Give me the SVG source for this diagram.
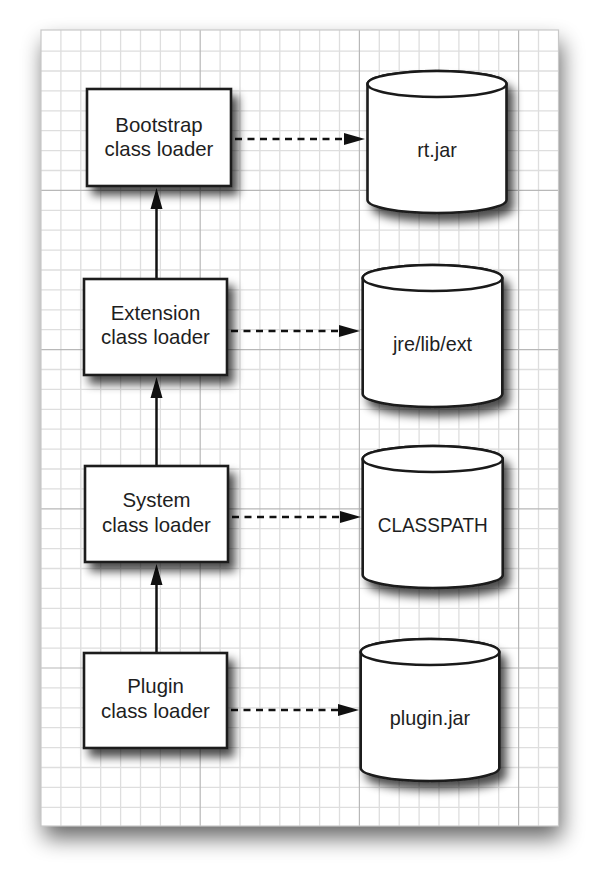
<svg xmlns="http://www.w3.org/2000/svg" width="600" height="871" viewBox="0 0 600 871">
<style>
.minor{stroke:#dedede;stroke-width:1.3;fill:none}
.major{stroke:#b8b8b8;stroke-width:1.2;fill:none}
.box{fill:#fff;stroke:#1a1a1a;stroke-width:2.6}
.cyl{fill:#fff;stroke:#1a1a1a;stroke-width:2.6}
.lbl{font-family:"Liberation Sans",Arial,Helvetica,sans-serif;font-size:20.4px;fill:#1e1e1e;text-anchor:middle}
.clbl{font-family:"Liberation Sans",Arial,Helvetica,sans-serif;font-size:19.8px;fill:#1e1e1e;text-anchor:middle}
.solid{stroke:#111;stroke-width:2.5;fill:none}
.dash{stroke:#111;stroke-width:2.6;fill:none;stroke-dasharray:7 5.5}
</style>
<defs>
<filter id="paperShadow" x="-15%" y="-10%" width="130%" height="125%">
<feGaussianBlur in="SourceAlpha" stdDeviation="11"/>
<feOffset dx="3" dy="12"/>
<feComponentTransfer><feFuncA type="linear" slope="0.6"/></feComponentTransfer>
<feMerge><feMergeNode/><feMergeNode in="SourceGraphic"/></feMerge>
</filter>
<filter id="nodeShadow" x="-20%" y="-20%" width="160%" height="160%">
<feGaussianBlur in="SourceAlpha" stdDeviation="5"/>
<feOffset dx="6" dy="8"/>
<feComponentTransfer><feFuncA type="linear" slope="0.7"/></feComponentTransfer>
<feMerge><feMergeNode/><feMergeNode in="SourceGraphic"/></feMerge>
</filter>
<marker id="arrow" markerUnits="userSpaceOnUse" markerWidth="22" markerHeight="14" refX="1" refY="6.5" orient="auto">
<path d="M0,0.5 L21,6.5 L0,12.5 z" fill="#111"/>
</marker>
</defs>
<rect width="600" height="871" fill="#fff"/>
<g id="paper">
<rect x="41" y="30" width="517.5" height="796" fill="#fff" filter="url(#paperShadow)"/>
<path class="minor" d="M60.9 30V826M80.8 30V826M100.7 30V826M120.6 30V826M140.5 30V826M160.4 30V826M180.3 30V826M220.1 30V826M240 30V826M259.9 30V826M279.8 30V826M299.7 30V826M319.6 30V826M339.5 30V826M379.3 30V826M399.2 30V826M419.1 30V826M439 30V826M458.9 30V826M478.8 30V826M498.7 30V826M538.5 30V826"/>
<path class="minor" d="M41 51.1H558.5M41 71H558.5M41 90.9H558.5M41 110.8H558.5M41 130.7H558.5M41 150.6H558.5M41 170.5H558.5M41 210.3H558.5M41 230.2H558.5M41 250.1H558.5M41 270H558.5M41 289.9H558.5M41 309.8H558.5M41 329.7H558.5M41 369.5H558.5M41 389.4H558.5M41 409.3H558.5M41 429.2H558.5M41 449.1H558.5M41 469H558.5M41 488.9H558.5M41 528.7H558.5M41 548.6H558.5M41 568.5H558.5M41 588.4H558.5M41 608.3H558.5M41 628.2H558.5M41 648.1H558.5M41 687.9H558.5M41 707.8H558.5M41 727.7H558.5M41 747.6H558.5M41 767.5H558.5M41 787.4H558.5M41 807.3H558.5"/>
<path class="major" d="M200.2 30V826M359.4 30V826M518.6 30V826M41 190.4H558.5M41 349.6H558.5M41 508.8H558.5M41 668H558.5"/>
<rect x="41" y="30" width="517.5" height="796" fill="none" stroke="#c8c8c8" stroke-width="1.2"/>
</g>
<g id="connectors">
<path class="solid" d="M156.5 279V208" marker-end="url(#arrow)"/>
<path class="solid" d="M156.5 466V397" marker-end="url(#arrow)"/>
<path class="solid" d="M156.5 653V584" marker-end="url(#arrow)"/>
<path class="dash" d="M235 139H345" marker-end="url(#arrow)"/>
<path class="dash" d="M231 331H340" marker-end="url(#arrow)"/>
<path class="dash" d="M232 517H341" marker-end="url(#arrow)"/>
<path class="dash" d="M231 710H339" marker-end="url(#arrow)"/>
</g>
<g id="bootstrap">
<rect class="box" x="87" y="89" width="144" height="97" filter="url(#nodeShadow)"/>
<text class="lbl" x="159" y="132">Bootstrap</text>
<text class="lbl" x="159" y="156">class loader</text>
</g>
<g id="extension">
<rect class="box" x="84" y="279" width="143" height="96" filter="url(#nodeShadow)"/>
<text class="lbl" x="155.5" y="320">Extension</text>
<text class="lbl" x="155.5" y="344">class loader</text>
</g>
<g id="system">
<rect class="box" x="85" y="466" width="143" height="96" filter="url(#nodeShadow)"/>
<text class="lbl" x="156.5" y="507">System</text>
<text class="lbl" x="156.5" y="532">class loader</text>
</g>
<g id="plugin">
<rect class="box" x="84" y="653" width="143" height="95" filter="url(#nodeShadow)"/>
<text class="lbl" x="155.5" y="693">Plugin</text>
<text class="lbl" x="155.5" y="718">class loader</text>
</g>
<g id="rtjar">
<path class="cyl" d="M367.5 84V200A69.5 13 0 0 0 506.5 200V84A69.5 13 0 0 0 367.5 84z" filter="url(#nodeShadow)"/>
<ellipse class="cyl" cx="437" cy="84" rx="69.5" ry="13"/>
<text class="clbl" x="437" y="157">rt.jar</text>
</g>
<g id="jrelibext">
<path class="cyl" d="M362.7 278V394A69.8 13 0 0 0 502.3 394V278A69.8 13 0 0 0 362.7 278z" filter="url(#nodeShadow)"/>
<ellipse class="cyl" cx="432.5" cy="278" rx="69.8" ry="13"/>
<text class="clbl" x="432.5" y="351">jre/lib/ext</text>
</g>
<g id="classpath">
<path class="cyl" d="M362.7 459V575A70 13 0 0 0 502.7 575V459A70 13 0 0 0 362.7 459z" filter="url(#nodeShadow)"/>
<ellipse class="cyl" cx="432.7" cy="459" rx="70" ry="13"/>
<text class="clbl" x="432.7" y="532" textLength="110" lengthAdjust="spacingAndGlyphs">CLASSPATH</text>
</g>
<g id="pluginjar">
<path class="cyl" d="M360.7 652V768A69.3 13 0 0 0 499.3 768V652A69.3 13 0 0 0 360.7 652z" filter="url(#nodeShadow)"/>
<ellipse class="cyl" cx="430" cy="652" rx="69.3" ry="13"/>
<text class="clbl" x="430" y="725">plugin.jar</text>
</g>
</svg>
